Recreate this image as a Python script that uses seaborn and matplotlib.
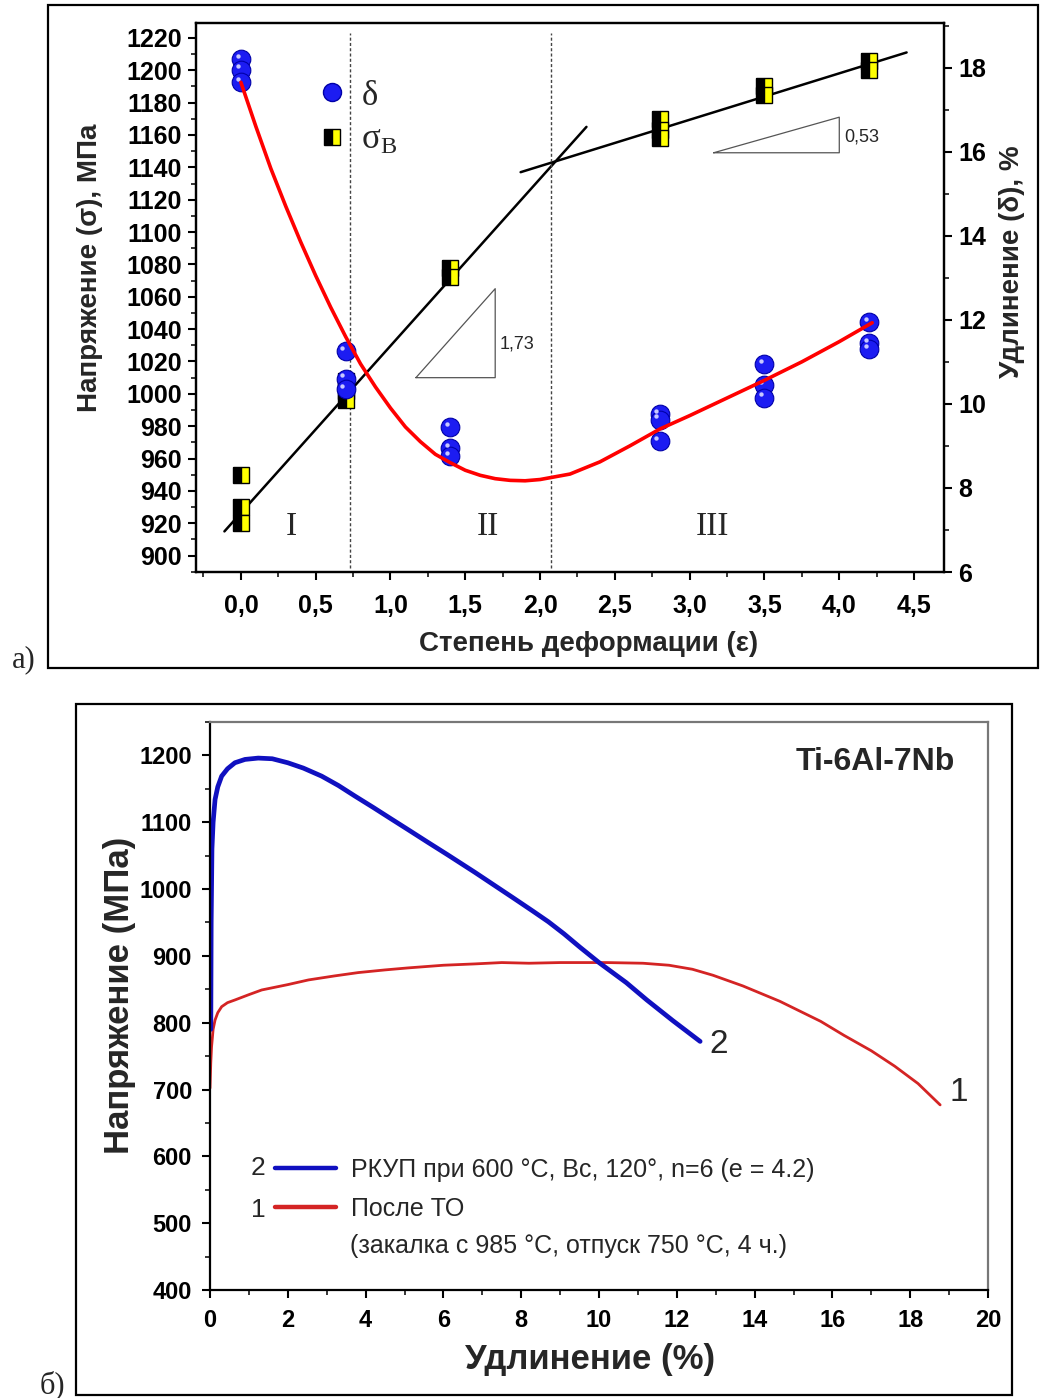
import numpy as np
import pandas as pd
import matplotlib
matplotlib.use("Agg")
import matplotlib.pyplot as plt
import seaborn as sns
from matplotlib.lines import Line2D
from matplotlib.patches import Rectangle
from matplotlib.ticker import MultipleLocator, FuncFormatter
from matplotlib.transforms import ScaledTranslation

# ---------------- data: panel a) ----------------
eps_sigma = [0.0, 0.0, 0.0, 0.7, 0.7, 0.7, 1.4, 1.4, 2.8, 2.8, 2.8, 3.5, 3.5, 4.2, 4.2]
sigma_b = [950, 930, 920, 1008, 1002, 996, 1078, 1072, 1170, 1163, 1158, 1190, 1185, 1206, 1200]

eps_delta = [0.0, 0.0, 0.0, 0.7, 0.7, 0.7, 1.4, 1.4, 1.4, 2.8, 2.8, 2.8, 3.5, 3.5, 3.5, 4.2, 4.2, 4.2]
delta = [18.2, 17.95, 17.65, 11.25, 10.6, 10.35, 9.45, 8.95, 8.75, 9.75, 9.62, 9.12, 10.95, 10.45, 10.15, 11.95, 11.45, 11.3]

delta_fit_eps = [0.0, 0.1, 0.2, 0.3, 0.4, 0.5, 0.6, 0.7, 0.8, 0.9, 1.0, 1.1, 1.2, 1.3, 1.4,
                 1.5, 1.6, 1.7, 1.8, 1.9, 2.0, 2.2, 2.4, 2.6, 2.8, 3.0, 3.25, 3.5, 3.75, 4.0, 4.22]
delta_fit_val = [17.65, 16.6, 15.6, 14.7, 13.85, 13.05, 12.3, 11.6, 10.95, 10.4, 9.9, 9.45, 9.1, 8.8, 8.6,
                 8.42, 8.3, 8.22, 8.18, 8.17, 8.2, 8.33, 8.62, 9.0, 9.4, 9.72, 10.14, 10.56, 11.0, 11.48, 11.93]

fit1_eps = [-0.11, 2.31]
fit1_sigma = [915, 1165]
fit2_eps = [1.87, 4.45]
fit2_sigma = [1137, 1211]

stage_bounds = [0.73, 2.07]
stage_names = ["I", "II", "III"]
stage_pos = [0.34, 1.65, 3.15]

tri1_eps = [1.17, 1.70, 1.70, 1.17]
tri1_sigma = [1010, 1010, 1065, 1010]
tri1_label = "1,73"
tri2_eps = [3.16, 4.0, 4.0, 3.16]
tri2_sigma = [1149, 1149, 1171, 1149]
tri2_label = "0,53"

# ---------------- data: panel б) ----------------
ecap_strain = [0.02, 0.03, 0.05, 0.08, 0.13, 0.2, 0.3, 0.45, 0.64, 0.9, 1.24, 1.6, 2.0, 2.4, 2.87,
               3.3, 3.73, 4.2, 4.63, 5.09, 5.6, 6.09, 6.81, 7.3, 7.79, 8.3, 8.7, 9.1, 9.51, 10.0,
               10.7, 11.23, 11.9, 12.6]
ecap_stress = [790, 950, 1060, 1100, 1134, 1153, 1169, 1180, 1189, 1194, 1196, 1195, 1189, 1181, 1169,
               1155, 1139, 1122, 1106, 1089, 1070, 1052, 1025, 1006, 987, 967, 951, 933, 913, 890,
               860, 834, 803, 772]

ht_strain = [0.0, 0.02, 0.04, 0.08, 0.13, 0.2, 0.3, 0.45, 0.64, 1.0, 1.33, 2.0, 2.53, 3.2, 3.81, 4.5,
             5.09, 6.0, 6.81, 7.5, 8.2, 9.0, 10.2, 11.13, 11.8, 12.4, 12.93, 13.7, 14.65, 15.0, 15.7,
             16.3, 17.0, 17.6, 18.2, 18.77]
ht_stress = [702, 740, 764, 790, 804, 815, 824, 830, 834, 842, 849, 857, 864, 870, 875, 879,
             882, 886, 888, 890, 889, 890, 890, 889, 886, 880, 871, 855, 832, 822, 802,
             781, 758, 735, 709, 677]

legend_labels = ["РКУП при 600 °C, Вс, 120°, n=6 (e = 4.2)",
                 "После ТО"]
legend_note = "(закалка с 985 °C, отпуск 750 °C, 4 ч.)"

# ---------------- style ----------------
sns.set_theme(style="ticks")
plt.rcParams["font.family"] = ["Liberation Sans", "DejaVu Sans"]
plt.rcParams["mathtext.fontset"] = "custom"
plt.rcParams["mathtext.rm"] = "Liberation Serif"
plt.rcParams["mathtext.it"] = "Liberation Serif:italic"
SERIF = ["Liberation Serif", "DejaVu Serif"]

fig = plt.figure(figsize=(10.4, 13.98), dpi=100)
W, H = 1040, 1398


def fig_rect(x0, y0, x1, y1):
    return [x0 / W, 1 - y1 / H, (x1 - x0) / W, (y1 - y0) / H]


# outer frames
r1 = fig_rect(48, 5, 1038, 668)
fig.add_artist(Rectangle((r1[0], r1[1]), r1[2], r1[3], transform=fig.transFigure,
                         fill=False, lw=1.6, ec="black"))
r2 = fig_rect(76, 704, 1012, 1395)
fig.add_artist(Rectangle((r2[0], r2[1]), r2[2], r2[3], transform=fig.transFigure,
                         fill=False, lw=1.6, ec="black"))
fig.text(12 / W, 1 - 660 / H, "а)", family=SERIF, fontsize=22, ha="left", va="center")
fig.text(40 / W, 1 - 1385 / H, "б)", family=SERIF, fontsize=22, ha="left", va="center")

# ================= panel a) =================
ax = fig.add_axes(fig_rect(196, 23, 944, 572))
ax2 = ax.twinx()

sns.lineplot(x=fit1_eps, y=fit1_sigma, ax=ax, color="black", lw=1.8, sort=False, estimator=None)
sns.lineplot(x=fit2_eps, y=fit2_sigma, ax=ax, color="black", lw=1.8, sort=False, estimator=None)
ax.plot(eps_sigma, sigma_b, ls="none", marker="s", ms=11.5, fillstyle="left",
        mfc="black", mfcalt="#ffff00", mec="black", mew=1.0, zorder=3)

ax.plot(tri1_eps, tri1_sigma, color="#555555", lw=0.9)
ax.plot(tri2_eps, tri2_sigma, color="#555555", lw=0.9)
ax.text(tri1_eps[1] + 0.03, 1031, tri1_label, fontsize=13, ha="left", va="center")
ax.text(tri2_eps[1] + 0.03, 1158.5, tri2_label, fontsize=13, ha="left", va="center")

for xb in stage_bounds:
    ax.axvline(xb, ymin=0.007, ymax=0.982, color="#444444", lw=1.0, ls=(0, (2.2, 1.6)))
for name, xp in zip(stage_names, stage_pos):
    ax.text(xp, 918, name, family=SERIF, fontsize=24, ha="center", va="center")

sns.lineplot(x=delta_fit_eps, y=delta_fit_val, ax=ax2, color="#ff0000", lw=2.6,
             sort=False, estimator=None, zorder=5)
sns.scatterplot(x=eps_delta, y=delta, ax=ax2, s=180, color="#1c1cf2",
                edgecolor="#0000a8", linewidth=0.8, zorder=3)
hl = ax2.transData + ScaledTranslation(-2.4 / 72, 2.4 / 72, fig.dpi_scale_trans)
ax2.scatter(eps_delta, delta, s=10, color="#c8c8ff", lw=0, transform=hl, zorder=4)

ax.set_xlim(-0.3, 4.7)
ax.set_ylim(889.9, 1229.2)
ax2.set_ylim(6.0, 19.06)

ax.xaxis.set_major_locator(MultipleLocator(0.5))
ax.xaxis.set_minor_locator(MultipleLocator(0.25))
ax.xaxis.set_major_formatter(FuncFormatter(lambda v, p: f"{v:.1f}".replace(".", ",")))
ax.yaxis.set_major_locator(MultipleLocator(20))
ax.yaxis.set_minor_locator(MultipleLocator(10))
ax2.yaxis.set_major_locator(MultipleLocator(2))
ax2.yaxis.set_minor_locator(MultipleLocator(1))

for a in (ax, ax2):
    for s in a.spines.values():
        s.set_linewidth(1.6)
        s.set_color("black")
    a.tick_params(which="major", direction="out", length=6, width=1.5, pad=4,
                  labelsize=18, colors="black")
    a.tick_params(which="minor", direction="out", length=3.5, width=1.3)
ax.tick_params(axis="y", which="both", left=True, right=False)
ax.tick_params(axis="x", which="both", top=False, bottom=True)
ax.tick_params(axis="x", which="major", pad=10)
ax2.tick_params(axis="y", which="both", right=True, left=False)
for lab in ax.get_xticklabels() + ax.get_yticklabels() + ax2.get_yticklabels():
    lab.set_fontweight("bold")

ax.set_xlabel("Степень деформации (ε)", fontsize=20, fontweight="bold")
ax.set_ylabel("Напряжение (σ), МПа", fontsize=20, fontweight="bold")
ax2.set_ylabel("Удлинение (δ), %", fontsize=20, fontweight="bold", rotation=90)
ax.xaxis.set_label_coords(0.525, -0.107)
ax.yaxis.set_label_coords(-0.124, 0.554)
ax2.yaxis.set_label_coords(1.073, 0.565)

h_ball = Line2D([], [], ls="none", marker="o", ms=13, mfc="#1c1cf2", mec="#0000a8")
h_sq = Line2D([], [], ls="none", marker="s", ms=11, fillstyle="left",
              mfc="black", mfcalt="#ffff00", mec="black")
leg = ax2.legend([h_ball, h_sq], ["δ", "σ$_{\\mathrm{В}}$"], loc="upper left",
                 bbox_to_anchor=(0.163, 0.897), frameon=False, borderpad=0, borderaxespad=0,
                 handlelength=0.8, handletextpad=0.45, labelspacing=0.32,
                 prop={"family": SERIF, "size": 25})

# ================= panel б) =================
ax3 = fig.add_axes(fig_rect(210, 722, 988, 1290))
sns.lineplot(x=ht_strain, y=ht_stress, ax=ax3, color="#d42424", lw=2.0,
             sort=False, estimator=None)
sns.lineplot(x=ecap_strain, y=ecap_stress, ax=ax3, color="#1010c0", lw=3.4,
             sort=False, estimator=None)

ax3.set_xlim(0, 20)
ax3.set_ylim(400, 1250)
ax3.xaxis.set_major_locator(MultipleLocator(2))
ax3.xaxis.set_minor_locator(MultipleLocator(1))
ax3.yaxis.set_major_locator(MultipleLocator(100))
ax3.yaxis.set_minor_locator(MultipleLocator(50))
for k in ("left", "bottom"):
    ax3.spines[k].set_color("black")
    ax3.spines[k].set_linewidth(1.6)
for k in ("top", "right"):
    ax3.spines[k].set_color("#777777")
    ax3.spines[k].set_linewidth(1.6)
ax3.tick_params(which="major", direction="out", length=6, width=1.5, pad=8,
                labelsize=17, colors="black", top=False, right=False)
ax3.tick_params(axis="y", which="major", pad=7)
ax3.tick_params(which="minor", direction="out", length=3.5, width=1.3, top=False, right=False)
for lab in ax3.get_xticklabels() + ax3.get_yticklabels():
    lab.set_fontweight("bold")

ax3.set_xlabel("Удлинение (%)", fontsize=25, fontweight="bold")
ax3.set_ylabel("Напряжение (МПа)", fontsize=25, fontweight="bold")
ax3.xaxis.set_label_coords(0.488, -0.093)
ax3.yaxis.set_label_coords(-0.095, 0.519)

ax3.text(ecap_strain[-1] + 0.25, ecap_stress[-1] - 5, "2", fontsize=24, ha="left", va="center")
ax3.text(ht_strain[-1] + 0.25, ht_stress[-1] + 18, "1", fontsize=24, ha="left", va="center")
ax3.text(0.9576, 0.9296, "Ti-6Al-7Nb", transform=ax3.transAxes, fontsize=23,
         fontweight="bold", ha="right", va="center")

h_blue = Line2D([], [], color="#1010c0", lw=3.2)
h_red = Line2D([], [], color="#d42424", lw=3.2)
ax3.legend([h_blue, h_red], legend_labels, loc="upper left",
           bbox_to_anchor=(0.0835, 0.233), frameon=False, borderpad=0, borderaxespad=0,
           handlelength=2.45, handletextpad=0.6, labelspacing=0.62, fontsize=18)
ax3.text(0.18, 0.0775, legend_note, transform=ax3.transAxes, fontsize=18, ha="left", va="center")
ax3.text(0.0617, 0.2148, "2", transform=ax3.transAxes, fontsize=19, ha="center", va="center")
ax3.text(0.0617, 0.1408, "1", transform=ax3.transAxes, fontsize=19, ha="center", va="center")

fig.savefig("out.png", dpi=100)
